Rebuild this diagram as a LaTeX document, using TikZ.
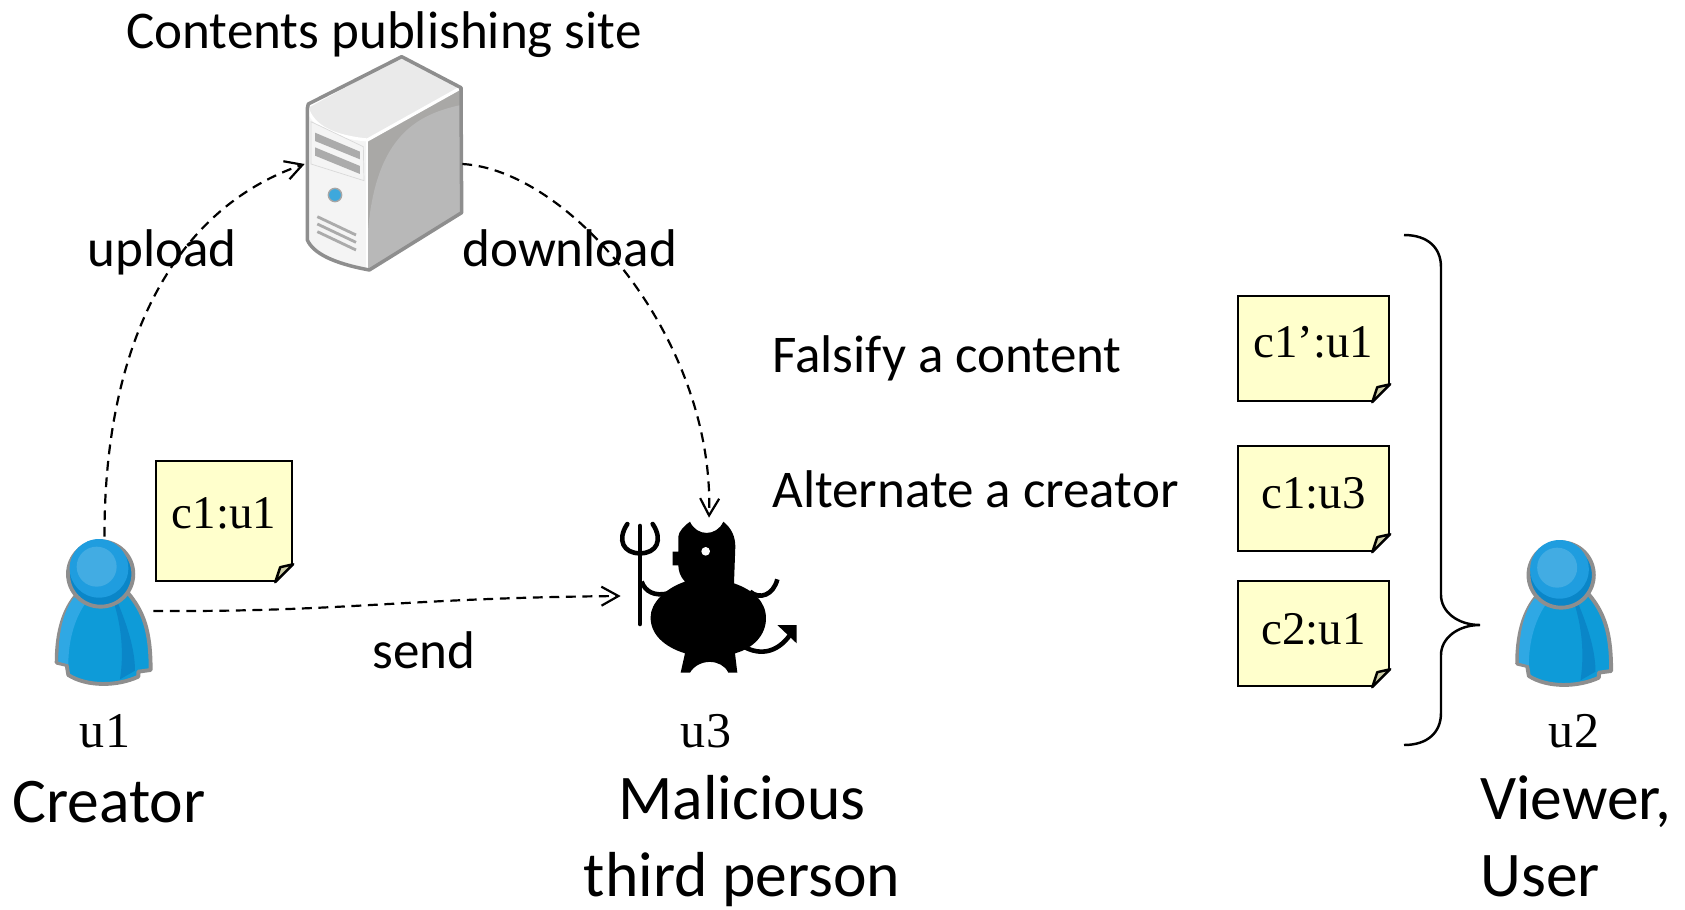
\documentclass[tikz,border=0pt]{standalone}
\usepackage{fontspec}
\setmainfont{Carlito}
\newfontfamily\serifname{Liberation Serif}
\usetikzlibrary{arrows.meta}

\definecolor{noteyellow}{HTML}{FFFFCC}
\definecolor{notefold}{HTML}{CFCFA8}
\definecolor{iconrim}{HTML}{8E8E8E}
\definecolor{bodyblue}{HTML}{0E9BD8}
\definecolor{bodylight}{HTML}{2FA8E4}
\definecolor{bodydark}{HTML}{0A86C8}
\definecolor{headblue}{HTML}{1F9DDF}
\definecolor{headlight}{HTML}{42ACE3}
\definecolor{casetop}{HTML}{EAEAEA}
\definecolor{casefront}{HTML}{F4F4F4}
\definecolor{caseside}{HTML}{A9A8A6}
\definecolor{casesidelight}{HTML}{B8B8B8}
\definecolor{casebar}{HTML}{ABABAB}
\definecolor{ledblue}{HTML}{3EA8DC}

\tikzset{
    zoomed/.style={x=0.02cm/3, y=-0.02cm/3},
    fold/.pic={
        \fill[white] (-19,1) -- (1,1) -- (1,-19) -- cycle;
        \draw[black, line width=1.4pt, fill=notefold, line join=round]
            (-18,0) -- (-13,-15) -- (0,-18) -- cycle;
    },
    person/.pic={
        \begin{scope}[zoomed]
            \draw[iconrim, line width=2.2pt, fill=bodyblue, line join=round]
                (170,548) .. controls (170,470) and (185,400) .. (225,350)
                -- (385,340) .. controls (430,395) and (452,450) .. (452,570)
                -- (415,575) -- (415,590) .. controls (350,620) and (260,620) .. (205,585)
                -- (200,555) -- cycle;
            \fill[bodylight] (222,352) .. controls (185,400) and (175,470) .. (175,545)
                -- (205,553) .. controls (205,480) and (225,410) .. (262,362) -- cycle;
            \fill[bodydark] (350,360) .. controls (375,420) and (405,500) .. (405,572)
                -- (360,598) .. controls (372,520) and (365,440) .. (340,362) -- cycle;
            \draw[iconrim, line width=2.2pt, fill=bodydark] (302,282) circle (98);
            \fill[headblue] (297,265) circle (88);
            \fill[headlight] (290,260) circle (60);
        \end{scope}
    },
    devil/.pic={
        \begin{scope}[zoomed]
            \fill[black] (300,95) .. controls (320,140) and (380,140) .. (400,95)
                .. controls (425,115) and (436,140) .. (436,170) -- (432,280)
                .. controls (490,300) and (528,335) .. (528,385)
                .. controls (528,435) and (490,475) .. (435,490)
                -- (442,548) -- (415,548) .. controls (395,505) and (325,505) .. (300,548)
                -- (272,548) -- (285,490)
                .. controls (220,470) and (180,430) .. (182,380)
                .. controls (182,340) and (225,295) .. (285,275)
                .. controls (270,260) and (265,240) .. (265,226)
                -- (248,226) -- (248,185) -- (265,185) -- (265,140)
                .. controls (265,125) and (285,105) .. (300,95) -- cycle;
            \fill[white] (347,184) circle (13);
            \draw[black, line width=2.6pt] (480,305) .. controls (510,330) and (550,315) .. (562,268);
            \draw[black, line width=2.6pt] (155,275) .. controls (165,305) and (195,320) .. (235,310);
            \draw[black, line width=2.6pt] (465,472) .. controls (510,495) and (560,490) .. (600,435);
            \fill[black] (562,405) -- (620,405) -- (620,460) -- cycle;
            \draw[black, line width=2.6pt, line cap=round] (150,108) -- (150,402);
            \draw[black, line width=2.6pt, line cap=round] (112,102) .. controls (80,150) and (100,190) .. (150,190)
                .. controls (200,190) and (220,150) .. (188,102);
        \end{scope}
    },
    server/.pic={
        \begin{scope}[zoomed]
            \fill[casetop] (82,205) -- (365,50) -- (543,143) -- (262,300)
                .. controls (160,290) and (100,260) .. (82,205) -- cycle;
            \fill[casefront] (82,205) .. controls (100,260) and (160,290) .. (262,300)
                -- (262,690) .. controls (160,670) and (100,640) .. (82,600) -- cycle;
            \fill[caseside] (262,300) -- (543,143) -- (543,520) -- (262,690) -- cycle;
            \fill[casesidelight] (262,600) .. controls (280,300) and (400,225) .. (543,195)
                -- (543,520) -- (262,690) -- cycle;
            \draw[white, line width=1.8pt] (82,205) .. controls (100,260) and (160,290) .. (262,300) -- (543,143);
            \draw[white, line width=1pt] (262,300) -- (262,690);
            \draw[iconrim, line width=2pt, line join=round]
                (82,205) -- (85,192) -- (365,50) -- (543,143) -- (545,518) -- (268,690)
                .. controls (160,670) and (100,640) .. (82,600) -- cycle;
            \draw[black!15, fill=casefront] (93,245) -- (250,320) -- (252,422) -- (93,372) -- cycle;
            \fill[casebar] (105,278) -- (240,335) -- (240,358) -- (105,303) -- cycle;
            \fill[casebar] (105,322) -- (240,378) -- (240,402) -- (105,347) -- cycle;
            \draw[black!35, line width=0.8pt, fill=ledblue] (165,465) circle (20);
            \foreach \ventrow in {530,552,575} {
                \draw[casebar, line width=1.6pt] (112,\ventrow) -- (228,\ventrow+55);
            }
        \end{scope}
    }
}

\begin{document}
\begin{tikzpicture}[
    x=0.02cm, y=-0.02cm,
    notebox/.style={draw=black, fill=noteyellow, line width=1.4pt, inner sep=0pt,
        font=\serifname\fontsize{26.7}{30}\selectfont, text height=0.64cm},
    smallnote/.style={notebox, minimum width=2.72cm, minimum height=2.4cm, text depth=0.36cm},
    widenote/.style={notebox, minimum width=3.02cm, minimum height=2.1cm},
    icon/.style={inner sep=0pt, minimum width=#1},
    caption/.style={font=\fontsize{30.2}{36}\selectfont, inner sep=0pt, anchor=base west},
    bigcaption/.style={font=\fontsize{36.2}{43.3}\selectfont, inner sep=0pt, anchor=base west, align=left},
    username/.style={font=\serifname\fontsize{28.5}{30}\selectfont, inner sep=0pt, anchor=base},
    arrow/.style={-{Straight Barb[length=3.4mm, width=3.8mm]}, line width=1.25pt, dash pattern=on 5.6pt off 3.8pt},
    brace/.style={line width=1.4pt}
]
\useasboundingbox (0,0) rectangle (1685,910);

% === ICONS ===
\node[icon=1.94cm, minimum height=2.96cm] (creator) at (104.5,611) {};
\node[icon=1.94cm, minimum height=2.96cm] (viewer) at (1565,612) {};
\node[icon=3.14cm, minimum height=4.32cm] (site) at (383.5,164) {};
\node[icon=3.52cm, minimum height=3.12cm] (thief) at (709,596) {};
\pic at (0,480) {person};
\pic at (1460.5,481) {person};
\pic at (280,40) {server};
\pic at (590,490) {devil};

% === NOTES ===
\node[smallnote] (origin) at (224,521) {c1:u1};
\foreach \name/\ycenter/\dropby/\txt in {falsified/348.5/0.28cm/c1’:u1, altered/498.5/0.24cm/c1:u3, other/633.5/0.22cm/c2:u1} {
    \node[widenote, text depth=\dropby] (\name) at (1313.5,\ycenter) {\txt};
    \pic at (\name.south east) {fold};
}
\pic at (origin.south east) {fold};

% === ARROWS ===
\draw[arrow] (creator.north) .. controls (104,350) and (170,210) .. (site.west);
\draw[arrow] (site.east) .. controls (570,170) and (715,340) .. (thief.north);
\draw[arrow] (creator.east) .. controls (350,612) and (400,598) .. (thief.west);

% === BRACE ===
\draw[brace] (1404,235) .. controls (1428,235) and (1441,248) .. (1441,267) -- (1441,595)
    .. controls (1441,612) and (1458,625) .. (1480,625)
    .. controls (1458,625) and (1441,638) .. (1441,655) -- (1441,713)
    .. controls (1441,732) and (1428,745) .. (1404,745);

% === LABELS ===
\node[caption] (sitename) at (126,48) {Contents publishing site};
\node[caption] (upload) at (87,266) {upload};
\node[caption] (download) at (462,266) {download};
\node[caption] (sendlabel) at (372,668) {send};
\node[caption] (falsify) at (772,372) {Falsify a content};
\node[caption] (alternate) at (772,507) {Alternate a creator};
\node[username] (uone) at (105,747) {u1};
\node[username] (uthree) at (706,747) {u3};
\node[username] (utwo) at (1574,747) {u2};
\node[bigcaption] (creatorname) at (12,822) {Creator};
\node[bigcaption, align=center, anchor=base] (thiefname) at (742,896) {Malicious\\third person};
\node[bigcaption, anchor=base west] (viewername) at (1480,896) {Viewer,\\User};
\end{tikzpicture}
\end{document}
